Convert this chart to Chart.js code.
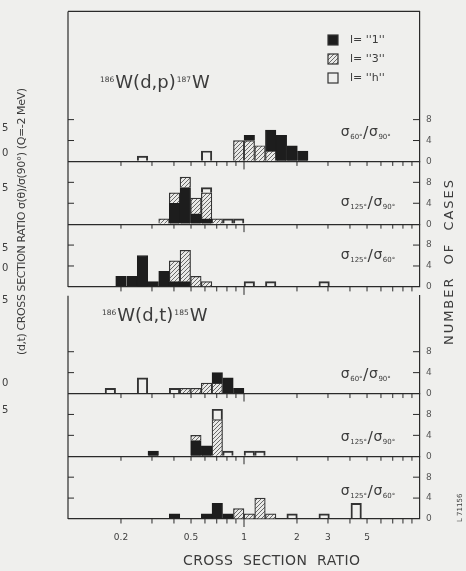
<!DOCTYPE html>
<html>
<head>
<meta charset="utf-8">
<script src="https://cdn.jsdelivr.net/npm/chart.js@4.4.1/dist/chart.umd.min.js"></script>
<style>
  html, body { margin: 0; padding: 0; background: #efefed; }
  #wrap { width: 466px; height: 571px; position: relative; }
</style>
</head>
<body>
<div id="wrap"><canvas id="chart" width="466" height="571"></canvas></div>
<script>
// histogram bins: each bin is 15% wide in the ratio, edges at 1.15^k
const binCentres = [0.174, 0.200, 0.231, 0.265, 0.305, 0.351, 0.403, 0.464, 0.533, 0.613, 0.705, 0.811,
                    0.933, 1.072, 1.233, 1.418, 1.631, 1.876, 2.157, 2.481, 2.853, 3.280, 3.773, 4.339];

// 186W(d,p)187W  sigma60/sigma90
const dp6090Black   = [0,0,0,0,0,0,0,0,0,0,0,0,0,1,0,4,5,3,2,0,0,0,0,0];
const dp6090Hatched = [0,0,0,0,0,0,0,0,0,0,0,0,4,4,3,2,0,0,0,0,0,0,0,0];
const dp6090Open    = [0,0,0,1,0,0,0,0,0,2,0,0,0,0,0,0,0,0,0,0,0,0,0,0];
// 186W(d,p)187W  sigma125/sigma90
const dp12590Black   = [0,0,0,0,0,0,4,7,2,1,0,0,0,0,0,0,0,0,0,0,0,0,0,0];
const dp12590Hatched = [0,0,0,0,0,1,2,2,3,5,1,0,0,0,0,0,0,0,0,0,0,0,0,0];
const dp12590Open    = [0,0,0,0,0,0,0,0,0,1,0,1,1,0,0,0,0,0,0,0,0,0,0,0];
// 186W(d,p)187W  sigma125/sigma60
const dp12560Black   = [0,2,2,6,1,3,1,1,0,0,0,0,0,0,0,0,0,0,0,0,0,0,0,0];
const dp12560Hatched = [0,0,0,0,0,0,4,6,2,1,0,0,0,0,0,0,0,0,0,0,0,0,0,0];
const dp12560Open    = [0,0,0,0,0,0,0,0,0,0,0,0,0,1,0,1,0,0,0,0,1,0,0,0];
// 186W(d,t)185W  sigma60/sigma90
const dt6090Black   = [0,0,0,0,0,0,0,0,0,0,2,3,1,0,0,0,0,0,0,0,0,0,0,0];
const dt6090Hatched = [0,0,0,0,0,0,0,1,1,2,2,0,0,0,0,0,0,0,0,0,0,0,0,0];
const dt6090Open    = [1,0,0,3,0,0,1,0,0,0,0,0,0,0,0,0,0,0,0,0,0,0,0,0];
// 186W(d,t)185W  sigma125/sigma90
const dt12590Black   = [0,0,0,0,1,0,0,0,3,2,0,0,0,0,0,0,0,0,0,0,0,0,0,0];
const dt12590Hatched = [0,0,0,0,0,0,0,0,1,0,7,0,0,0,0,0,0,0,0,0,0,0,0,0];
const dt12590Open    = [0,0,0,0,0,0,0,0,0,0,2,1,0,1,1,0,0,0,0,0,0,0,0,0];
// 186W(d,t)185W  sigma125/sigma60
const dt12560Black   = [0,0,0,0,0,0,1,0,0,1,3,1,0,0,0,0,0,0,0,0,0,0,0,0];
const dt12560Hatched = [0,0,0,0,0,0,0,0,0,0,0,0,2,1,4,1,0,0,0,0,0,0,0,0];
const dt12560Open    = [0,0,0,0,0,0,0,0,0,0,0,0,0,0,0,0,0,1,0,0,1,0,0,3];

// axis ticks
const xMinorTicks = [0.2,0.3,0.4,0.5,0.6,0.7,0.8,0.9,1,2,3,4,5,6,7,8,9];
const xTickLabels = [0.2, 0.5, 1, 2, 3, 5];
const countTicks = [0, 4, 8];
const legendLabels = ["l= ''1''", "l= ''3''", "l= ''h''"];
const ratioLabels = [['60°','90°'], ['125°','90°'], ['125°','60°'], ['60°','90°'], ['125°','90°'], ['125°','60°']];

const ink = '#2a2a2a';
const textInk = '#3c3c3c';
const font = '"DejaVu Sans", sans-serif';

function hatchPattern() {
  const c = document.createElement('canvas');
  c.width = 4; c.height = 4;
  const g = c.getContext('2d');
  g.fillStyle = '#e9e9e7';
  g.fillRect(0, 0, 4, 4);
  g.strokeStyle = '#5a5a5a';
  g.lineWidth = 0.9;
  g.beginPath();
  g.moveTo(0, 4); g.lineTo(4, 0);
  g.moveTo(-1, 1); g.lineTo(1, -1);
  g.moveTo(3, 5); g.lineTo(5, 3);
  g.stroke();
  return g.createPattern(c, 'repeat');
}
const hatch = hatchPattern();

const styles = {
  black:   { backgroundColor: '#1d1d1d', borderColor: '#1d1d1d', borderWidth: 1 },
  hatched: { backgroundColor: hatch, borderColor: '#333', borderWidth: 1.2 },
  open:    { backgroundColor: 'rgba(0,0,0,0)', borderColor: '#333', borderWidth: 1.3 }
};

// panels top to bottom; 'gap' separates the two reactions
const panels = [
  { id: 'p1', max: 28.7, series: { black: dp6090Black, hatched: dp6090Hatched, open: dp6090Open }, stackOrder: ['hatched','black','open'], labelAt: 4.9 },
  { id: 'p2', max: 12,   series: { black: dp12590Black, hatched: dp12590Hatched, open: dp12590Open }, stackOrder: ['black','hatched','open'], labelAt: 3.5 },
  { id: 'p3', max: 12,   series: { black: dp12560Black, hatched: dp12560Hatched, open: dp12560Open }, stackOrder: ['black','hatched','open'], labelAt: 5.3 },
  { id: 'gap', max: 1.7 },
  { id: 'p4', max: 18.7, series: { black: dt6090Black, hatched: dt6090Hatched, open: dt6090Open }, stackOrder: ['hatched','black','open'], labelAt: 2.9 },
  { id: 'p5', max: 12,   series: { black: dt12590Black, hatched: dt12590Hatched, open: dt12590Open }, stackOrder: ['black','hatched','open'], labelAt: 2.9 },
  { id: 'p6', max: 12,   series: { black: dt12560Black, hatched: dt12560Hatched, open: dt12560Open }, stackOrder: ['black','hatched','open'], labelAt: 4.6 }
];
const dataPanels = panels.filter(p => p.series);
const groups = [['p1','p2','p3'], ['p4','p5','p6']];

const datasets = [];
for (const p of dataPanels) {
  for (const kind of p.stackOrder) {
    datasets.push(Object.assign({
      label: p.id + '-' + kind,
      yAxisID: p.id,
      borderSkipped: 'start',
      data: binCentres.map((x, i) => ({ x: x, y: p.series[kind][i] || null }))
    }, styles[kind]));
  }
}

const scales = {
  x: {
    type: 'logarithmic',
    position: 'bottom',
    min: 0.1,
    max: 10,
    // only the labelled ticks live on the scale; the minor ones are drawn by the frame plugin
    afterBuildTicks: s => { s.ticks = xTickLabels.map(v => ({ value: v })); },
    afterFit: s => { s.height = 52; },
    grid: { display: false, drawTicks: false },
    border: { display: false },
    ticks: {
      autoSkip: false,
      maxRotation: 0,
      padding: 13,
      color: textInk,
      font: { family: font, size: 9 },
      callback: v => String(v)
    }
  }
};
for (const p of panels) {
  scales[p.id] = {
    type: 'linear',
    position: 'right',
    stack: 'cases',
    stackWeight: p.max,
    stacked: true,
    min: 0,
    max: p.max,
    display: !!p.series,
    afterBuildTicks: s => { s.ticks = countTicks.map(v => ({ value: v })); },
    afterFit: s => { s.width = 46; },
    grid: {
      drawTicks: false,
      lineWidth: 1.2,
      color: c => (c.tick && c.tick.value === 0) ? ink : 'rgba(0,0,0,0)'
    },
    border: { display: true, color: ink, width: 1.2 },
    ticks: { padding: 6, color: '#555', font: { family: font, size: 9 } }
  };
}

function line(ctx, x1, y1, x2, y2) {
  ctx.beginPath();
  ctx.moveTo(x1, y1);
  ctx.lineTo(x2, y2);
  ctx.stroke();
}

function spacedText(ctx, text, x, y, width) {
  ctx.letterSpacing = '0px';
  const n = text.length - 1;
  const w = ctx.measureText(text).width;
  ctx.letterSpacing = ((width - w) / n) + 'px';
  ctx.fillText(text, x, y);
  ctx.letterSpacing = '0px';
}

function drawRatio(ctx, x, y, top, bottom) {
  ctx.textAlign = 'left';
  ctx.textBaseline = 'alphabetic';
  const parts = [['σ', 14, 0], [top, 7, 3], ['/', 16, 2], ['σ', 14, 0], [bottom, 7, 3]];
  for (const [t, size, dy] of parts) {
    ctx.font = size + 'px ' + font;
    ctx.fillText(t, x, y + dy);
    x += ctx.measureText(t).width + 0.5;
  }
}

function drawReaction(ctx, x, y, a, reaction, b) {
  ctx.textAlign = 'left';
  ctx.textBaseline = 'alphabetic';
  const parts = [[a, 7.5, -6], ['W' + reaction, 18, 0], [b, 7.5, -6], ['W', 18, 0]];
  for (const [t, size, dy] of parts) {
    ctx.font = size + 'px ' + font;
    ctx.fillText(t, x, y + dy);
    x += ctx.measureText(t).width + 1;
  }
}

const framePlugin = {
  id: 'frame',
  afterDraw(chart) {
    const { ctx, chartArea: { left, right } } = chart;
    const xs = chart.scales.x;
    ctx.save();
    ctx.strokeStyle = ink;
    ctx.lineWidth = 1.2;

    // outer frames of both reactions
    for (const g of groups) {
      const top = chart.scales[g[0]].top;
      const bottom = chart.scales[g[g.length - 1]].bottom;
      line(ctx, left, top, left, bottom);
    }
    line(ctx, left, chart.scales.p1.top, right, chart.scales.p1.top);

    // inward count ticks and ratio ticks under every baseline
    ctx.lineWidth = 1;
    for (const p of dataPanels) {
      const s = chart.scales[p.id];
      for (const v of countTicks) {
        if (v === 0) continue;
        const y = s.getPixelForValue(v);
        line(ctx, left, y, left + 6, y);
        line(ctx, right - 7, y, right, y);
      }
      const y0 = s.getPixelForValue(0);
      for (const v of xMinorTicks) {
        const x = xs.getPixelForValue(v);
        line(ctx, x, y0, x, y0 + (v === 1 ? 8 : 4.5));
      }
    }

    ctx.fillStyle = textInk;

    // ratio names in each panel
    dataPanels.forEach((p, i) => {
      const y = chart.scales[p.id].getPixelForValue(p.labelAt);
      drawRatio(ctx, xs.getPixelForValue(3.55), y, ratioLabels[i][0], ratioLabels[i][1]);
    });

    drawReaction(ctx, 100, 88, '186', '(d,p)', '187');
    drawReaction(ctx, 102, 321, '186', '(d,t)', '185');

    // legend
    const lx = 328, ly = [35, 54, 73];
    const fills = ['#1d1d1d', hatch, '#efefed'];
    for (let i = 0; i < 3; i++) {
      ctx.fillStyle = fills[i];
      ctx.fillRect(lx, ly[i], 10, 10);
      ctx.strokeStyle = '#333';
      ctx.lineWidth = 1.2;
      ctx.strokeRect(lx, ly[i], 10, 10);
      ctx.fillStyle = textInk;
      ctx.font = '11px ' + font;
      ctx.textAlign = 'left';
      ctx.textBaseline = 'middle';
      ctx.fillText(legendLabels[i], lx + 22, ly[i] + 5);
    }

    // axis titles
    ctx.fillStyle = textInk;
    ctx.textBaseline = 'alphabetic';
    ctx.textAlign = 'left';
    ctx.font = '14px ' + font;
    spacedText(ctx, 'CROSS  SECTION  RATIO', 183, 565, 177);

    ctx.save();
    ctx.translate(453, 345);
    ctx.rotate(-Math.PI / 2);
    ctx.font = '13px ' + font;
    spacedText(ctx, 'NUMBER  OF  CASES', 0, 0, 165);
    ctx.restore();

    ctx.save();
    ctx.translate(462, 522);
    ctx.rotate(-Math.PI / 2);
    ctx.font = '7px ' + font;
    ctx.fillText('L 71156', 0, 0);
    ctx.restore();

    // edge of the neighbouring figure's axis
    ctx.save();
    ctx.translate(25, 355);
    ctx.rotate(-Math.PI / 2);
    ctx.font = '11px ' + font;
    spacedText(ctx, '(d,t) CROSS SECTION RATIO σ(θ)/σ(90°) (Q=-2 MeV)', 0, 0, 267);
    ctx.restore();
    ctx.font = '10px ' + font;
    ctx.textAlign = 'left';
    ctx.textBaseline = 'middle';
    const edgeDigits = [['5', 128], ['0', 153], ['5', 188], ['5', 248], ['0', 268], ['5', 300], ['0', 383], ['5', 410]];
    for (const [t, y] of edgeDigits) ctx.fillText(t, 2, y);

    ctx.restore();
  }
};

new Chart(document.getElementById('chart'), {
  type: 'bar',
  data: { datasets: datasets },
  options: {
    responsive: false,
    devicePixelRatio: 1,
    animation: false,
    datasets: {
      bar: { grouped: false, barPercentage: 1, categoryPercentage: 1 }
    },
    layout: { padding: { left: 68, top: 8, right: 0, bottom: 0 } },
    plugins: { legend: { display: false }, tooltip: { enabled: false } },
    scales: scales
  },
  plugins: [framePlugin]
});
</script>
</body>
</html>
